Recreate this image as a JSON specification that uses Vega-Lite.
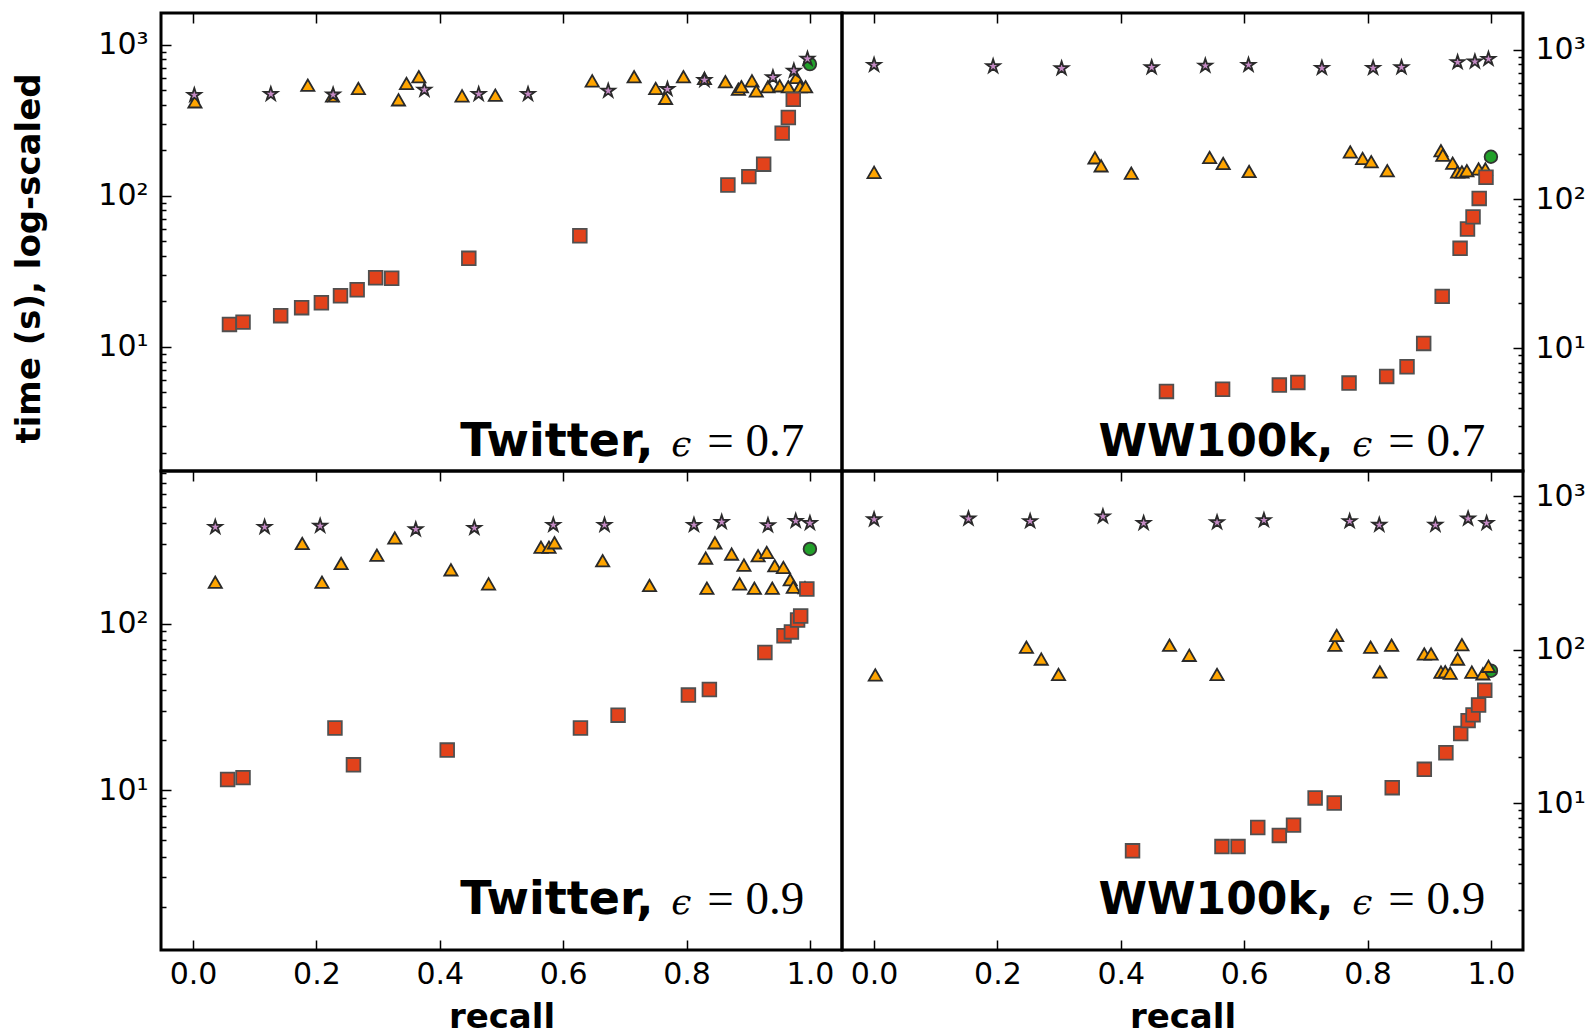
{
  "$schema": "https://vega.github.io/schema/vega-lite/v6.json",
  "background": "white",
  "padding": {"left": 10, "top": 10, "right": 5, "bottom": 3},
  "columns": 2,
  "spacing": 0,
  "bounds": "flush",
  "align": "each",
  "config": {
    "view": {"stroke": "black", "strokeWidth": 3},
    "axis": {"labelFont": "DejaVu Sans", "labelFontSize": 30, "labelColor": "black", "titleFont": "DejaVu Sans", "titleFontSize": 34, "titleFontWeight": "bold", "titleColor": "black", "tickColor": "black", "tickWidth": 1.5, "domain": false, "grid": false}
  },
  "datasets": {
    "TL": [
      {"series": "circle", "recall": 1.0, "time": 745},
      {"series": "triangle", "recall": 0.003, "time": 419}, {"series": "triangle", "recall": 0.186, "time": 540}, {"series": "triangle", "recall": 0.226, "time": 459}, {"series": "triangle", "recall": 0.268, "time": 514}, {"series": "triangle", "recall": 0.333, "time": 432}, {"series": "triangle", "recall": 0.346, "time": 555}, {"series": "triangle", "recall": 0.366, "time": 614}, {"series": "triangle", "recall": 0.436, "time": 459}, {"series": "triangle", "recall": 0.49, "time": 464}, {"series": "triangle", "recall": 0.647, "time": 577}, {"series": "triangle", "recall": 0.715, "time": 614}, {"series": "triangle", "recall": 0.75, "time": 514}, {"series": "triangle", "recall": 0.766, "time": 442}, {"series": "triangle", "recall": 0.795, "time": 614}, {"series": "triangle", "recall": 0.829, "time": 598}, {"series": "triangle", "recall": 0.863, "time": 569}, {"series": "triangle", "recall": 0.884, "time": 508}, {"series": "triangle", "recall": 0.889, "time": 527}, {"series": "triangle", "recall": 0.906, "time": 577}, {"series": "triangle", "recall": 0.913, "time": 495}, {"series": "triangle", "recall": 0.932, "time": 527}, {"series": "triangle", "recall": 0.951, "time": 535}, {"series": "triangle", "recall": 0.965, "time": 527}, {"series": "triangle", "recall": 0.978, "time": 608}, {"series": "triangle", "recall": 0.984, "time": 527}, {"series": "triangle", "recall": 0.993, "time": 527},
      {"series": "square", "recall": 0.059, "time": 14.1}, {"series": "square", "recall": 0.081, "time": 14.6}, {"series": "square", "recall": 0.142, "time": 16.1}, {"series": "square", "recall": 0.176, "time": 18.2}, {"series": "square", "recall": 0.208, "time": 19.6}, {"series": "square", "recall": 0.239, "time": 21.8}, {"series": "square", "recall": 0.266, "time": 23.9}, {"series": "square", "recall": 0.296, "time": 28.7}, {"series": "square", "recall": 0.322, "time": 28.5}, {"series": "square", "recall": 0.447, "time": 38.6}, {"series": "square", "recall": 0.627, "time": 54.4}, {"series": "square", "recall": 0.867, "time": 118}, {"series": "square", "recall": 0.901, "time": 134}, {"series": "square", "recall": 0.925, "time": 162}, {"series": "square", "recall": 0.955, "time": 260}, {"series": "square", "recall": 0.965, "time": 330}, {"series": "square", "recall": 0.973, "time": 435},
      {"series": "star", "recall": 0.002, "time": 464}, {"series": "star", "recall": 0.126, "time": 471}, {"series": "star", "recall": 0.227, "time": 467}, {"series": "star", "recall": 0.375, "time": 503}, {"series": "star", "recall": 0.463, "time": 471}, {"series": "star", "recall": 0.543, "time": 471}, {"series": "star", "recall": 0.673, "time": 495}, {"series": "star", "recall": 0.769, "time": 508}, {"series": "star", "recall": 0.829, "time": 583}, {"series": "star", "recall": 0.94, "time": 608}, {"series": "star", "recall": 0.974, "time": 672}, {"series": "star", "recall": 0.996, "time": 806}
    ],
    "TR": [
      {"series": "circle", "recall": 1.0, "time": 192},
      {"series": "triangle", "recall": 0.0, "time": 151}, {"series": "triangle", "recall": 0.358, "time": 189}, {"series": "triangle", "recall": 0.368, "time": 167}, {"series": "triangle", "recall": 0.417, "time": 149}, {"series": "triangle", "recall": 0.544, "time": 190}, {"series": "triangle", "recall": 0.566, "time": 173}, {"series": "triangle", "recall": 0.608, "time": 153}, {"series": "triangle", "recall": 0.772, "time": 207}, {"series": "triangle", "recall": 0.792, "time": 187}, {"series": "triangle", "recall": 0.806, "time": 178}, {"series": "triangle", "recall": 0.832, "time": 155}, {"series": "triangle", "recall": 0.919, "time": 211}, {"series": "triangle", "recall": 0.922, "time": 197}, {"series": "triangle", "recall": 0.938, "time": 174}, {"series": "triangle", "recall": 0.946, "time": 152}, {"series": "triangle", "recall": 0.953, "time": 152}, {"series": "triangle", "recall": 0.961, "time": 155}, {"series": "triangle", "recall": 0.98, "time": 159}, {"series": "triangle", "recall": 0.991, "time": 159},
      {"series": "square", "recall": 0.474, "time": 5.15}, {"series": "square", "recall": 0.565, "time": 5.33}, {"series": "square", "recall": 0.657, "time": 5.68}, {"series": "square", "recall": 0.687, "time": 5.92}, {"series": "square", "recall": 0.77, "time": 5.86}, {"series": "square", "recall": 0.831, "time": 6.49}, {"series": "square", "recall": 0.864, "time": 7.53}, {"series": "square", "recall": 0.891, "time": 10.8}, {"series": "square", "recall": 0.921, "time": 22.3}, {"series": "square", "recall": 0.95, "time": 46.8}, {"series": "square", "recall": 0.962, "time": 63}, {"series": "square", "recall": 0.971, "time": 76}, {"series": "square", "recall": 0.981, "time": 101}, {"series": "square", "recall": 0.992, "time": 140},
      {"series": "star", "recall": 0.0, "time": 790}, {"series": "star", "recall": 0.193, "time": 774}, {"series": "star", "recall": 0.304, "time": 750}, {"series": "star", "recall": 0.45, "time": 762}, {"series": "star", "recall": 0.537, "time": 781}, {"series": "star", "recall": 0.607, "time": 790}, {"series": "star", "recall": 0.726, "time": 754}, {"series": "star", "recall": 0.809, "time": 754}, {"series": "star", "recall": 0.855, "time": 762}, {"series": "star", "recall": 0.946, "time": 824}, {"series": "star", "recall": 0.974, "time": 832}, {"series": "star", "recall": 0.996, "time": 867}
    ],
    "BL": [
      {"series": "circle", "recall": 1.0, "time": 280},
      {"series": "triangle", "recall": 0.036, "time": 177}, {"series": "triangle", "recall": 0.177, "time": 302}, {"series": "triangle", "recall": 0.209, "time": 177}, {"series": "triangle", "recall": 0.24, "time": 229}, {"series": "triangle", "recall": 0.298, "time": 257}, {"series": "triangle", "recall": 0.327, "time": 326}, {"series": "triangle", "recall": 0.418, "time": 210}, {"series": "triangle", "recall": 0.479, "time": 173}, {"series": "triangle", "recall": 0.564, "time": 287}, {"series": "triangle", "recall": 0.577, "time": 287}, {"series": "triangle", "recall": 0.586, "time": 305}, {"series": "triangle", "recall": 0.664, "time": 238}, {"series": "triangle", "recall": 0.74, "time": 169}, {"series": "triangle", "recall": 0.831, "time": 247}, {"series": "triangle", "recall": 0.833, "time": 163}, {"series": "triangle", "recall": 0.846, "time": 305}, {"series": "triangle", "recall": 0.873, "time": 261}, {"series": "triangle", "recall": 0.886, "time": 173}, {"series": "triangle", "recall": 0.893, "time": 224}, {"series": "triangle", "recall": 0.91, "time": 163}, {"series": "triangle", "recall": 0.916, "time": 255}, {"series": "triangle", "recall": 0.93, "time": 267}, {"series": "triangle", "recall": 0.939, "time": 163}, {"series": "triangle", "recall": 0.943, "time": 222}, {"series": "triangle", "recall": 0.957, "time": 217}, {"series": "triangle", "recall": 0.968, "time": 183}, {"series": "triangle", "recall": 0.973, "time": 165}, {"series": "triangle", "recall": 0.992, "time": 164},
      {"series": "square", "recall": 0.056, "time": 11.6}, {"series": "square", "recall": 0.081, "time": 11.9}, {"series": "square", "recall": 0.23, "time": 23.6}, {"series": "square", "recall": 0.26, "time": 14.2}, {"series": "square", "recall": 0.412, "time": 17.4}, {"series": "square", "recall": 0.628, "time": 23.6}, {"series": "square", "recall": 0.689, "time": 28.2}, {"series": "square", "recall": 0.803, "time": 37.2}, {"series": "square", "recall": 0.837, "time": 40.2}, {"series": "square", "recall": 0.927, "time": 67}, {"series": "square", "recall": 0.958, "time": 84.5}, {"series": "square", "recall": 0.97, "time": 89}, {"series": "square", "recall": 0.98, "time": 105}, {"series": "square", "recall": 0.985, "time": 111}, {"series": "square", "recall": 0.995, "time": 161},
      {"series": "star", "recall": 0.036, "time": 379}, {"series": "star", "recall": 0.116, "time": 379}, {"series": "star", "recall": 0.206, "time": 385}, {"series": "star", "recall": 0.361, "time": 367}, {"series": "star", "recall": 0.456, "time": 374}, {"series": "star", "recall": 0.584, "time": 390}, {"series": "star", "recall": 0.667, "time": 390}, {"series": "star", "recall": 0.812, "time": 390}, {"series": "star", "recall": 0.857, "time": 406}, {"series": "star", "recall": 0.932, "time": 388}, {"series": "star", "recall": 0.977, "time": 412}, {"series": "star", "recall": 1.0, "time": 400}
    ],
    "BR": [
      {"series": "circle", "recall": 1.0, "time": 73},
      {"series": "triangle", "recall": 0.002, "time": 68.5}, {"series": "triangle", "recall": 0.247, "time": 104}, {"series": "triangle", "recall": 0.271, "time": 87}, {"series": "triangle", "recall": 0.299, "time": 69}, {"series": "triangle", "recall": 0.479, "time": 107}, {"series": "triangle", "recall": 0.511, "time": 92}, {"series": "triangle", "recall": 0.556, "time": 69}, {"series": "triangle", "recall": 0.747, "time": 107}, {"series": "triangle", "recall": 0.75, "time": 124}, {"series": "triangle", "recall": 0.805, "time": 104}, {"series": "triangle", "recall": 0.82, "time": 71.6}, {"series": "triangle", "recall": 0.839, "time": 107}, {"series": "triangle", "recall": 0.892, "time": 94}, {"series": "triangle", "recall": 0.903, "time": 94}, {"series": "triangle", "recall": 0.919, "time": 71.5}, {"series": "triangle", "recall": 0.926, "time": 72}, {"series": "triangle", "recall": 0.934, "time": 70.3}, {"series": "triangle", "recall": 0.946, "time": 87}, {"series": "triangle", "recall": 0.953, "time": 108}, {"series": "triangle", "recall": 0.969, "time": 71.5}, {"series": "triangle", "recall": 0.987, "time": 69.7}, {"series": "triangle", "recall": 0.996, "time": 78},
      {"series": "square", "recall": 0.419, "time": 4.88}, {"series": "square", "recall": 0.564, "time": 5.2}, {"series": "square", "recall": 0.59, "time": 5.2}, {"series": "square", "recall": 0.622, "time": 6.93}, {"series": "square", "recall": 0.657, "time": 6.15}, {"series": "square", "recall": 0.68, "time": 7.18}, {"series": "square", "recall": 0.715, "time": 10.8}, {"series": "square", "recall": 0.746, "time": 10.0}, {"series": "square", "recall": 0.84, "time": 12.6}, {"series": "square", "recall": 0.892, "time": 16.6}, {"series": "square", "recall": 0.927, "time": 21.3}, {"series": "square", "recall": 0.951, "time": 28.4}, {"series": "square", "recall": 0.963, "time": 34.5}, {"series": "square", "recall": 0.971, "time": 37.6}, {"series": "square", "recall": 0.98, "time": 43.6}, {"series": "square", "recall": 0.99, "time": 54.4},
      {"series": "star", "recall": 0.0, "time": 708}, {"series": "star", "recall": 0.153, "time": 716}, {"series": "star", "recall": 0.253, "time": 689}, {"series": "star", "recall": 0.371, "time": 740}, {"series": "star", "recall": 0.437, "time": 670}, {"series": "star", "recall": 0.556, "time": 677}, {"series": "star", "recall": 0.632, "time": 700}, {"series": "star", "recall": 0.771, "time": 689}, {"series": "star", "recall": 0.819, "time": 652}, {"series": "star", "recall": 0.91, "time": 652}, {"series": "star", "recall": 0.963, "time": 716}, {"series": "star", "recall": 0.993, "time": 670}
    ]
  },
  "concat": [
    {
      "width": 681, "height": 458,
      "layer": [
        {
          "data": {"name": "TL"},
          "mark": {"type": "point", "filled": true, "opacity": 1, "strokeWidth": 1.8},
          "encoding": {
            "x": {"field": "recall", "type": "quantitative", "scale": {"domain": [-0.052, 1.052], "nice": false, "zero": false}, "axis": {"orient": "top", "values": [0, 0.2, 0.4, 0.6, 0.8, 1], "labels": false, "tickSize": -10, "title": null}},
            "y": {"field": "time", "type": "quantitative", "scale": {"type": "log", "domain": [1.51, 1622], "nice": false}, "axis": {"orient": "left", "values": [2,3,4,5,6,7,8,9,10,20,30,40,50,60,70,80,90,100,200,300,400,500,600,700,800,900,1000], "labelExpr": "datum.value == 10 ? '10¹' : datum.value == 100 ? '10²' : datum.value == 1000 ? '10³' : ''", "tickSize": -10, "tickDash": {"condition": {"test": "datum.value == 10 || datum.value == 100 || datum.value == 1000", "value": [20, 1]}, "value": [5, 20]}, "labelPadding": 23, "title": "time (s), log-scaled", "titleFontSize": 34, "titleAngle": -90, "titleX": -115, "titleY": 245, "titleBaseline": "bottom", "titleAlign": "center"}},
            "shape": {"field": "series", "type": "nominal", "scale": {"domain": ["circle", "triangle", "square", "star"], "range": ["circle", "triangle-up", "square", "M0,-1L0.225,-0.309L0.951,-0.309L0.363,0.118L0.588,0.809L0,0.382L-0.588,0.809L-0.363,0.118L-0.951,-0.309L-0.225,-0.309Z"]}, "legend": null},
            "fill": {"field": "series", "type": "nominal", "scale": {"domain": ["circle", "triangle", "square", "star"], "range": ["#22a02a", "#ffa500", "#e2421b", "#c58ac5"]}, "legend": null},
            "stroke": {"field": "series", "type": "nominal", "scale": {"domain": ["circle", "triangle", "square", "star"], "range": ["#333333", "#2a2a2a", "#505050", "#2a2a2a"]}, "legend": null},
            "size": {"field": "series", "type": "nominal", "scale": {"domain": ["circle", "triangle", "square", "star"], "range": [160, 200, 180, 170]}, "legend": null}
          }
        },
        {
          "data": {"values": [{"label": "Twitter,"}]},
          "mark": {"type": "text", "align": "right", "baseline": "alphabetic", "dx": -151, "font": "DejaVu Sans", "fontWeight": "bold", "fontSize": 46, "color": "black"},
          "encoding": {"x": {"datum": 0.991, "type": "quantitative"}, "y": {"datum": 1.91, "type": "quantitative"}, "text": {"field": "label"}}
        },
        {
          "data": {"values": [{"label": "ϵ"}]},
          "mark": {"type": "text", "align": "left", "baseline": "alphabetic", "dx": -133, "font": "DejaVu Serif", "fontStyle": "italic", "fontSize": 36, "color": "black"},
          "encoding": {"x": {"datum": 0.991, "type": "quantitative"}, "y": {"datum": 1.91, "type": "quantitative"}, "text": {"field": "label"}}
        },
        {
          "data": {"values": [{"label": "= 0.7"}]},
          "mark": {"type": "text", "align": "right", "baseline": "alphabetic", "font": "Liberation Serif", "fontSize": 47, "color": "black"},
          "encoding": {"x": {"datum": 0.991, "type": "quantitative"}, "y": {"datum": 1.91, "type": "quantitative"}, "text": {"field": "label"}}
        }
      ]
    },
    {
      "width": 681, "height": 458,
      "layer": [
        {
          "data": {"name": "TR"},
          "mark": {"type": "point", "filled": true, "opacity": 1, "strokeWidth": 1.8},
          "encoding": {
            "x": {"field": "recall", "type": "quantitative", "scale": {"domain": [-0.052, 1.052], "nice": false, "zero": false}, "axis": {"orient": "top", "values": [0, 0.2, 0.4, 0.6, 0.8, 1], "labels": false, "tickSize": -10, "title": null}},
            "y": {"field": "time", "type": "quantitative", "scale": {"type": "log", "domain": [1.51, 1762], "nice": false}, "axis": {"orient": "right", "values": [2,3,4,5,6,7,8,9,10,20,30,40,50,60,70,80,90,100,200,300,400,500,600,700,800,900,1000], "labelExpr": "datum.value == 10 ? '10¹' : datum.value == 100 ? '10²' : datum.value == 1000 ? '10³' : ''", "tickSize": -10, "tickDash": {"condition": {"test": "datum.value == 10 || datum.value == 100 || datum.value == 1000", "value": [20, 1]}, "value": [5, 20]}, "labelPadding": 22, "title": null}},
            "shape": {"field": "series", "type": "nominal", "scale": {"domain": ["circle", "triangle", "square", "star"], "range": ["circle", "triangle-up", "square", "M0,-1L0.225,-0.309L0.951,-0.309L0.363,0.118L0.588,0.809L0,0.382L-0.588,0.809L-0.363,0.118L-0.951,-0.309L-0.225,-0.309Z"]}, "legend": null},
            "fill": {"field": "series", "type": "nominal", "scale": {"domain": ["circle", "triangle", "square", "star"], "range": ["#22a02a", "#ffa500", "#e2421b", "#c58ac5"]}, "legend": null},
            "stroke": {"field": "series", "type": "nominal", "scale": {"domain": ["circle", "triangle", "square", "star"], "range": ["#333333", "#2a2a2a", "#505050", "#2a2a2a"]}, "legend": null},
            "size": {"field": "series", "type": "nominal", "scale": {"domain": ["circle", "triangle", "square", "star"], "range": [160, 200, 180, 170]}, "legend": null}
          }
        },
        {
          "data": {"values": [{"label": "WW100k,"}]},
          "mark": {"type": "text", "align": "right", "baseline": "alphabetic", "dx": -152, "font": "DejaVu Sans", "fontWeight": "bold", "fontSize": 44, "color": "black"},
          "encoding": {"x": {"datum": 0.991, "type": "quantitative"}, "y": {"datum": 1.91, "type": "quantitative"}, "text": {"field": "label"}}
        },
        {
          "data": {"values": [{"label": "ϵ"}]},
          "mark": {"type": "text", "align": "left", "baseline": "alphabetic", "dx": -133, "font": "DejaVu Serif", "fontStyle": "italic", "fontSize": 36, "color": "black"},
          "encoding": {"x": {"datum": 0.991, "type": "quantitative"}, "y": {"datum": 1.91, "type": "quantitative"}, "text": {"field": "label"}}
        },
        {
          "data": {"values": [{"label": "= 0.7"}]},
          "mark": {"type": "text", "align": "right", "baseline": "alphabetic", "font": "Liberation Serif", "fontSize": 47, "color": "black"},
          "encoding": {"x": {"datum": 0.991, "type": "quantitative"}, "y": {"datum": 1.91, "type": "quantitative"}, "text": {"field": "label"}}
        }
      ]
    },
    {
      "width": 681, "height": 479,
      "resolve": {"axis": {"x": "independent"}},
      "layer": [
        {
          "data": {"name": "BL"},
          "mark": {"type": "point", "filled": true, "opacity": 1, "strokeWidth": 1.8},
          "encoding": {
            "x": {"field": "recall", "type": "quantitative", "scale": {"domain": [-0.052, 1.052], "nice": false, "zero": false}, "axis": {"orient": "bottom", "values": [0, 0.2, 0.4, 0.6, 0.8, 1], "format": ".1f", "tickSize": -10, "labelPadding": 19, "title": "recall", "titlePadding": 11}},
            "y": {"field": "time", "type": "quantitative", "scale": {"type": "log", "domain": [1.1, 822], "nice": false}, "axis": {"orient": "left", "values": [2,3,4,5,6,7,8,9,10,20,30,40,50,60,70,80,90,100,200,300,400,500,600,700,800], "labelExpr": "datum.value == 10 ? '10¹' : datum.value == 100 ? '10²' : datum.value == 1000 ? '10³' : ''", "tickSize": -10, "tickDash": {"condition": {"test": "datum.value == 10 || datum.value == 100 || datum.value == 1000", "value": [20, 1]}, "value": [5, 20]}, "labelPadding": 23, "title": null}},
            "shape": {"field": "series", "type": "nominal", "scale": {"domain": ["circle", "triangle", "square", "star"], "range": ["circle", "triangle-up", "square", "M0,-1L0.225,-0.309L0.951,-0.309L0.363,0.118L0.588,0.809L0,0.382L-0.588,0.809L-0.363,0.118L-0.951,-0.309L-0.225,-0.309Z"]}, "legend": null},
            "fill": {"field": "series", "type": "nominal", "scale": {"domain": ["circle", "triangle", "square", "star"], "range": ["#22a02a", "#ffa500", "#e2421b", "#c58ac5"]}, "legend": null},
            "stroke": {"field": "series", "type": "nominal", "scale": {"domain": ["circle", "triangle", "square", "star"], "range": ["#333333", "#2a2a2a", "#505050", "#2a2a2a"]}, "legend": null},
            "size": {"field": "series", "type": "nominal", "scale": {"domain": ["circle", "triangle", "square", "star"], "range": [160, 200, 180, 170]}, "legend": null}
          }
        },
        {
          "data": {"values": [{"label": "Twitter,"}]},
          "mark": {"type": "text", "align": "right", "baseline": "alphabetic", "dx": -151, "font": "DejaVu Sans", "fontWeight": "bold", "fontSize": 46, "color": "black"},
          "encoding": {"x": {"datum": 0.991, "type": "quantitative", "axis": {"orient": "top", "values": [0, 0.2, 0.4, 0.6, 0.8, 1], "labels": false, "tickSize": -10, "title": null}}, "y": {"datum": 1.8, "type": "quantitative"}, "text": {"field": "label"}}
        },
        {
          "data": {"values": [{"label": "ϵ"}]},
          "mark": {"type": "text", "align": "left", "baseline": "alphabetic", "dx": -133, "font": "DejaVu Serif", "fontStyle": "italic", "fontSize": 36, "color": "black"},
          "encoding": {"x": {"datum": 0.991, "type": "quantitative", "axis": null}, "y": {"datum": 1.8, "type": "quantitative"}, "text": {"field": "label"}}
        },
        {
          "data": {"values": [{"label": "= 0.9"}]},
          "mark": {"type": "text", "align": "right", "baseline": "alphabetic", "font": "Liberation Serif", "fontSize": 47, "color": "black"},
          "encoding": {"x": {"datum": 0.991, "type": "quantitative", "axis": null}, "y": {"datum": 1.8, "type": "quantitative"}, "text": {"field": "label"}}
        }
      ]
    },
    {
      "width": 681, "height": 479,
      "resolve": {"axis": {"x": "independent"}},
      "layer": [
        {
          "data": {"name": "BR"},
          "mark": {"type": "point", "filled": true, "opacity": 1, "strokeWidth": 1.8},
          "encoding": {
            "x": {"field": "recall", "type": "quantitative", "scale": {"domain": [-0.052, 1.052], "nice": false, "zero": false}, "axis": {"orient": "bottom", "values": [0, 0.2, 0.4, 0.6, 0.8, 1], "format": ".1f", "tickSize": -10, "labelPadding": 19, "title": "recall", "titlePadding": 11}},
            "y": {"field": "time", "type": "quantitative", "scale": {"type": "log", "domain": [1.1, 1466], "nice": false}, "axis": {"orient": "right", "values": [2,3,4,5,6,7,8,9,10,20,30,40,50,60,70,80,90,100,200,300,400,500,600,700,800,900,1000], "labelExpr": "datum.value == 10 ? '10¹' : datum.value == 100 ? '10²' : datum.value == 1000 ? '10³' : ''", "tickSize": -10, "tickDash": {"condition": {"test": "datum.value == 10 || datum.value == 100 || datum.value == 1000", "value": [20, 1]}, "value": [5, 20]}, "labelPadding": 22, "title": null}},
            "shape": {"field": "series", "type": "nominal", "scale": {"domain": ["circle", "triangle", "square", "star"], "range": ["circle", "triangle-up", "square", "M0,-1L0.225,-0.309L0.951,-0.309L0.363,0.118L0.588,0.809L0,0.382L-0.588,0.809L-0.363,0.118L-0.951,-0.309L-0.225,-0.309Z"]}, "legend": null},
            "fill": {"field": "series", "type": "nominal", "scale": {"domain": ["circle", "triangle", "square", "star"], "range": ["#22a02a", "#ffa500", "#e2421b", "#c58ac5"]}, "legend": null},
            "stroke": {"field": "series", "type": "nominal", "scale": {"domain": ["circle", "triangle", "square", "star"], "range": ["#333333", "#2a2a2a", "#505050", "#2a2a2a"]}, "legend": null},
            "size": {"field": "series", "type": "nominal", "scale": {"domain": ["circle", "triangle", "square", "star"], "range": [160, 200, 180, 170]}, "legend": null}
          }
        },
        {
          "data": {"values": [{"label": "WW100k,"}]},
          "mark": {"type": "text", "align": "right", "baseline": "alphabetic", "dx": -152, "font": "DejaVu Sans", "fontWeight": "bold", "fontSize": 44, "color": "black"},
          "encoding": {"x": {"datum": 0.991, "type": "quantitative", "axis": {"orient": "top", "values": [0, 0.2, 0.4, 0.6, 0.8, 1], "labels": false, "tickSize": -10, "title": null}}, "y": {"datum": 1.88, "type": "quantitative"}, "text": {"field": "label"}}
        },
        {
          "data": {"values": [{"label": "ϵ"}]},
          "mark": {"type": "text", "align": "left", "baseline": "alphabetic", "dx": -133, "font": "DejaVu Serif", "fontStyle": "italic", "fontSize": 36, "color": "black"},
          "encoding": {"x": {"datum": 0.991, "type": "quantitative", "axis": null}, "y": {"datum": 1.88, "type": "quantitative"}, "text": {"field": "label"}}
        },
        {
          "data": {"values": [{"label": "= 0.9"}]},
          "mark": {"type": "text", "align": "right", "baseline": "alphabetic", "font": "Liberation Serif", "fontSize": 47, "color": "black"},
          "encoding": {"x": {"datum": 0.991, "type": "quantitative", "axis": null}, "y": {"datum": 1.88, "type": "quantitative"}, "text": {"field": "label"}}
        }
      ]
    }
  ]
}
